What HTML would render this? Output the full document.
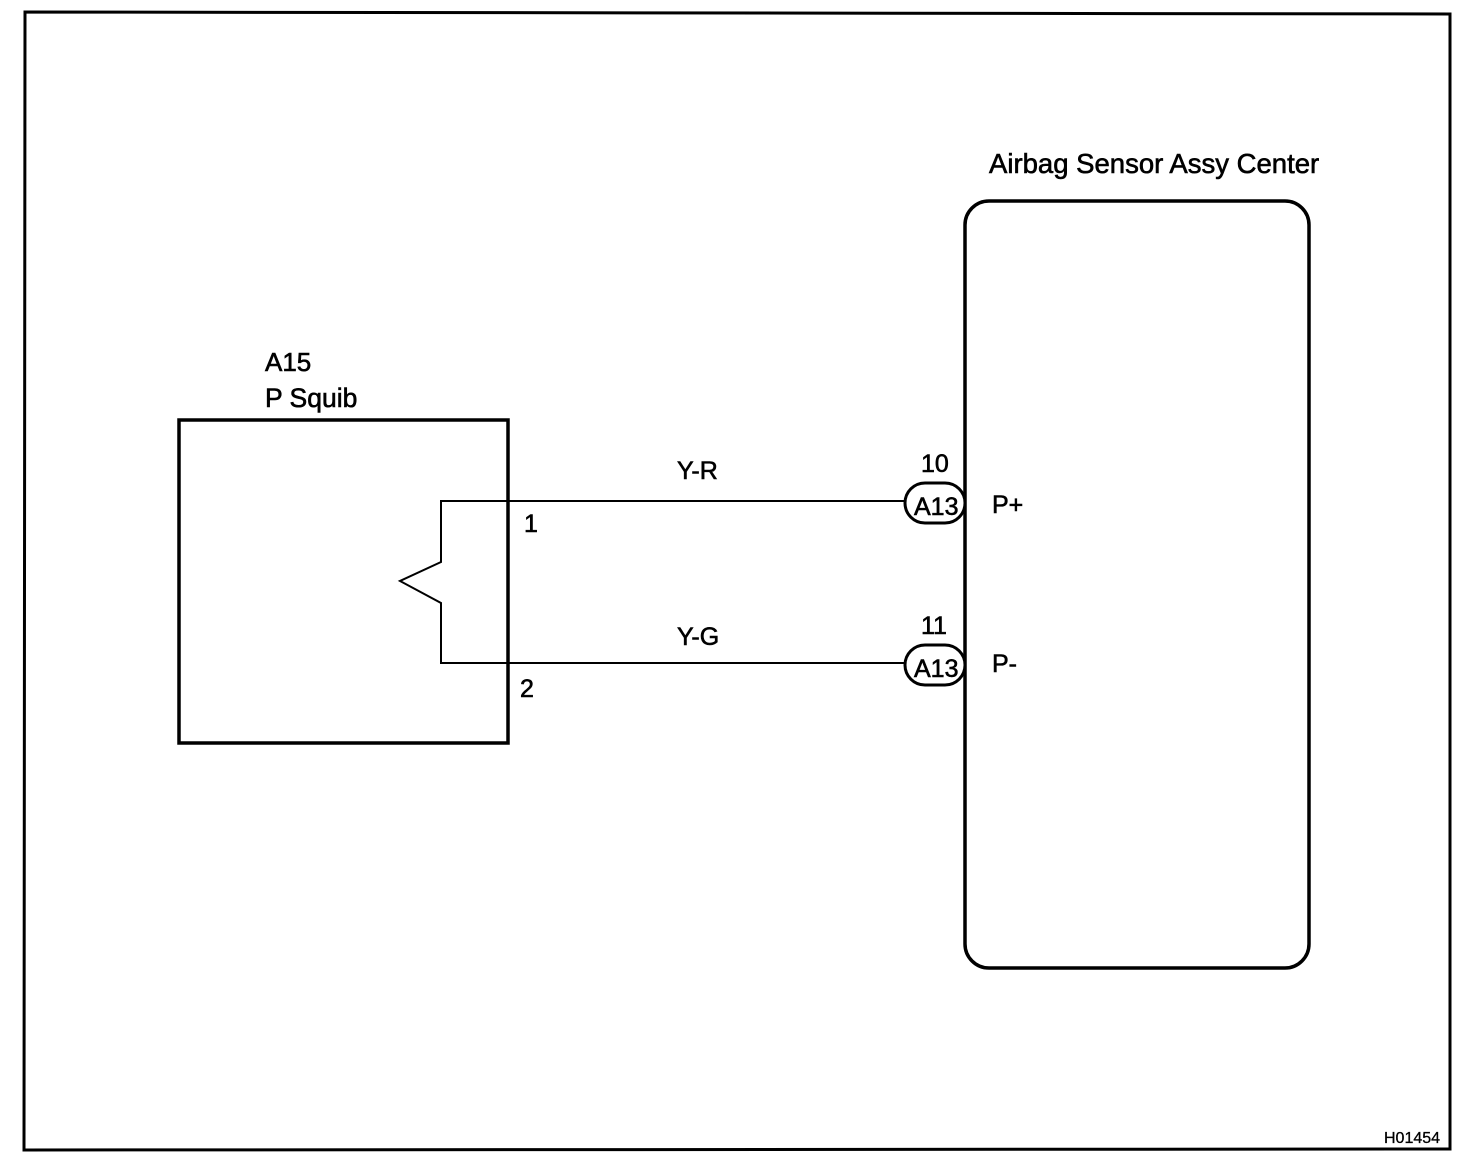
<!DOCTYPE html>
<html><head><style>
html,body{margin:0;padding:0;background:#fff;}
svg{display:block;}
text{font-family:"Liberation Sans",Arial,sans-serif;fill:#000;stroke:#000;stroke-width:0.6;}
</style></head><body>
<svg width="1472" height="1168" viewBox="0 0 1472 1168" xmlns="http://www.w3.org/2000/svg">
<polygon points="25,12 1450,14 1450,1149 24,1150" fill="none" stroke="#000" stroke-width="3"/>
<rect x="179" y="420" width="329" height="323" fill="none" stroke="#000" stroke-width="3.5"/>
<polyline points="905,501 441,501 441,562 400,581 441,603 441,663 905,663" fill="none" stroke="#000" stroke-width="2"/>
<rect x="965" y="201" width="344" height="767" rx="24" ry="24" fill="none" stroke="#000" stroke-width="3.5"/>
<rect x="905" y="483" width="60" height="40" rx="20" ry="20" fill="#fff" stroke="#000" stroke-width="3"/>
<rect x="905" y="645" width="60" height="40" rx="20" ry="20" fill="#fff" stroke="#000" stroke-width="3"/>
<text x="914" y="515" font-size="25">A13</text>
<text x="914" y="677" font-size="25">A13</text>
<text x="921" y="472" font-size="25">10</text>
<text x="921" y="634" font-size="25">11</text>
<text x="992" y="513" font-size="25">P+</text>
<text x="992" y="672" font-size="25">P-</text>
<text x="677" y="479" font-size="25">Y-R</text>
<text x="677" y="645" font-size="25">Y-G</text>
<text x="524" y="532" font-size="25">1</text>
<text x="520" y="697" font-size="25">2</text>
<text x="265" y="371" font-size="26">A15</text>
<text x="265" y="407" font-size="26.5">P Squib</text>
<text x="989" y="173" font-size="27.5">Airbag Sensor Assy Center</text>
<text x="1384" y="1143" font-size="16" style="stroke-width:0.3">H01454</text>
</svg>
</body></html>
